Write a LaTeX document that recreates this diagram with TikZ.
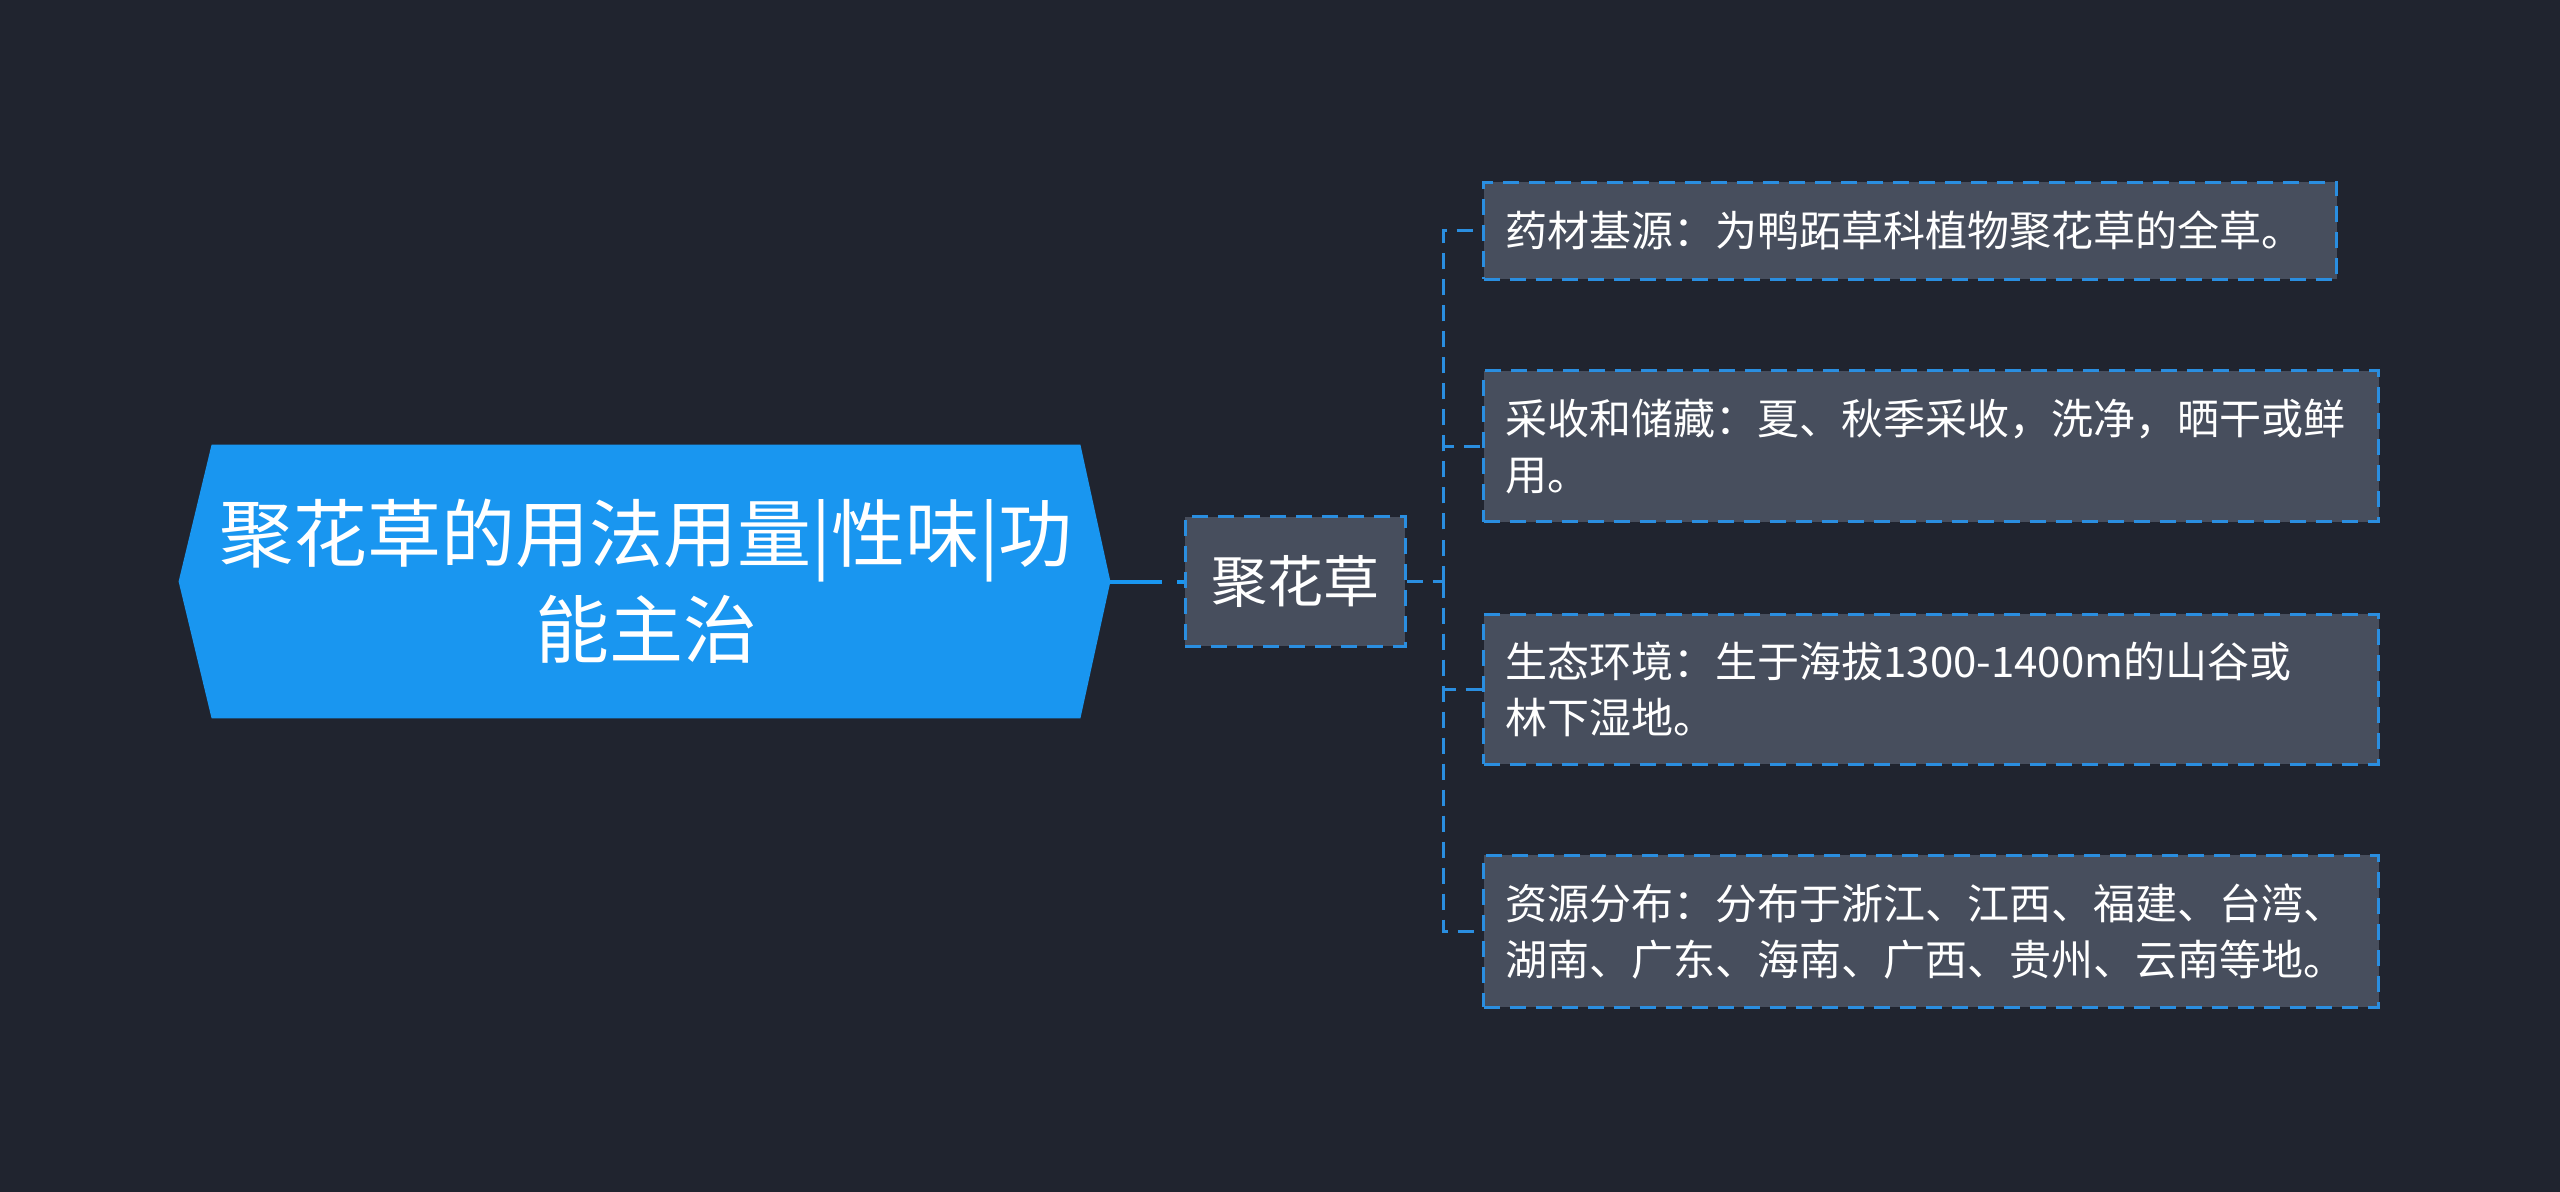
\documentclass[tikz,border=0pt]{standalone}
\usepackage{fontspec}
\newfontfamily\cjk{Noto Sans CJK SC}
\usetikzlibrary{backgrounds}
\definecolor{fond}{HTML}{20242F}
\definecolor{bleu}{HTML}{1996F0}
\definecolor{trait}{HTML}{2A8EE0}
\definecolor{gris}{HTML}{474E5D}
\tikzset{
  feuille/.style={draw=trait, fill=gris, line width=1.5pt, dash pattern=on 8pt off 5pt,
    text=white, font=\cjk\fontsize{21}{28}\selectfont, align=left, anchor=west,
    inner xsep=11pt, inner ysep=0pt},
  lien/.style={draw=trait, line width=1.5pt, dash pattern=on 8pt off 5pt},
}
\begin{document}
\begin{tikzpicture}[x=0.5pt,y=-0.5pt]
		\node[text=white, font=\cjk\fontsize{37}{48}\selectfont, align=center, minimum width=434pt, minimum height=136.5pt, inner sep=0pt] (racine) at (646,581.5) {聚花草的用法用量|性味|功\\能主治};
		\coordinate (pointe) at ([xshift=15pt]racine.east);
		\node[feuille, anchor=center, align=center, minimum width=110pt, minimum height=64.5pt, inner sep=0pt, font=\cjk\fontsize{28}{34}\selectfont] (herbe) at (1295,581.5) {聚花草};
		\node[feuille, text width=404.5pt, minimum height=48.5pt] (source) at (1482,231) {药材基源：为鸭跖草科植物聚花草的全草。};
		\node[feuille, text width=425.5pt, minimum height=75.5pt] (recolte) at (1482,446.5) {采收和储藏：夏、秋季采收，洗净，晒干或鲜\\用。};
		\node[feuille, text width=425.5pt, minimum height=75pt] (milieu) at (1482,689) {生态环境：生于海拔1300-1400m的山谷或\\林下湿地。};
		\node[feuille, text width=425.5pt, minimum height=76pt] (repartition) at (1482,931) {资源分布：分布于浙江、江西、福建、台湾、\\湖南、广东、海南、广西、贵州、云南等地。};
		%liaisons
		\coordinate (fourche) at (1443,581.5);
		\draw[draw=bleu, line width=2pt, dash pattern=on 26pt off 7.5pt on 4pt off 5pt] (pointe) -- (herbe.west);
		\draw[lien] (herbe.east) -- (fourche);
		\foreach \f in {source,recolte,milieu,repartition}
			\draw[lien] (fourche) |- (\f.west);
		%fond
		\begin{scope}[on background layer]
			\fill[fond] (0,0) rectangle (2560,1192);
			\fill[bleu] (racine.north west) -- (racine.north east) -- (pointe) -- (racine.south east) -- (racine.south west) -- ([xshift=-16.5pt]racine.west) -- cycle;
		\end{scope}
	\end{tikzpicture}
\end{document}
